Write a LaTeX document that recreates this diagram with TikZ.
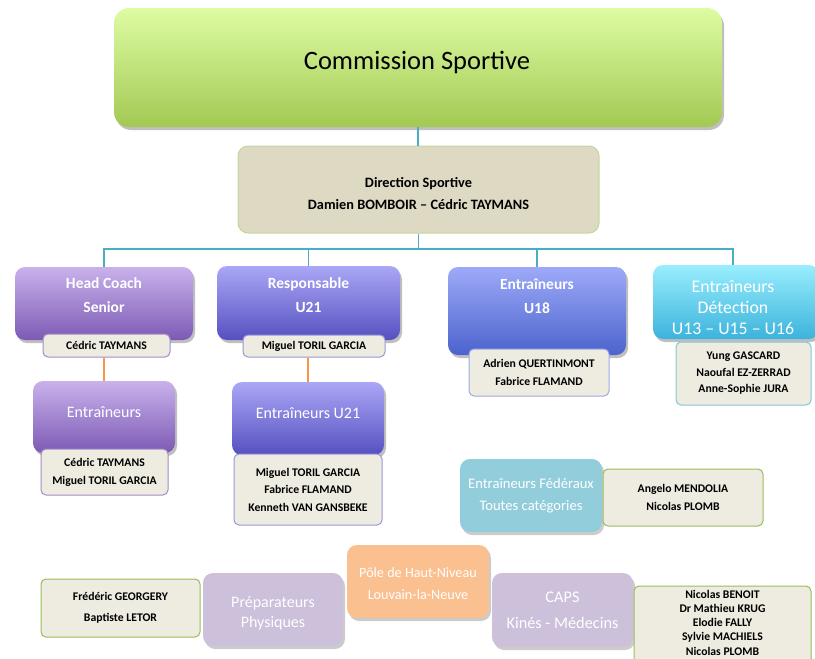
\documentclass[tikz,border=0pt]{standalone}
\usepackage{fontspec}
\setmainfont{Carlito}
\usepackage{xcolor}
\usetikzlibrary{shadows}
\definecolor{csTop}{RGB}{221, 252, 163}
\definecolor{csBot}{RGB}{163, 201, 83}
\definecolor{dirFill}{RGB}{221, 217, 195}
\definecolor{dirLine}{RGB}{195, 214, 155}
\definecolor{busBlue}{RGB}{75, 172, 198}
\definecolor{linkOrange}{RGB}{247, 150, 70}
\definecolor{hcTop}{RGB}{201, 177, 236}
\definecolor{hcBot}{RGB}{124, 90, 180}
\definecolor{uaTop}{RGB}{170, 167, 246}
\definecolor{uaBot}{RGB}{86, 80, 192}
\definecolor{ubTop}{RGB}{158, 170, 248}
\definecolor{ubBot}{RGB}{75, 99, 205}
\definecolor{detTop}{RGB}{152, 238, 253}
\definecolor{detBot}{RGB}{60, 179, 220}
\definecolor{nameFill}{RGB}{238, 236, 225}
\definecolor{nameGreen}{RGB}{155, 187, 89}
\definecolor{fedFill}{RGB}{146, 205, 220}
\definecolor{lilac}{RGB}{204, 192, 218}
\definecolor{peach}{RGB}{250, 192, 144}

\begin{document}
\begin{tikzpicture}[x=1pt, y=-1pt,
    conn/.style={busBlue, line width=1.2pt},
    subconn/.style={linkOrange, line width=1.2pt},
    shade box/.style={rounded corners=10pt, inner sep=0pt,
      drop shadow={shadow xshift=2pt, shadow yshift=-3pt, opacity=0.25, fill=black}},
    flat box/.style={rounded corners=10pt, inner sep=0pt,
      drop shadow={shadow xshift=2pt, shadow yshift=-3pt, opacity=0.2, fill=black}},
    name box/.style={rounded corners=5pt, inner sep=0pt, fill=nameFill, draw, line width=1pt,
      align=center, font=\bfseries\fontsize{11.7}{18}\selectfont},
    head text/.style={text=white, align=center, font=\bfseries\fontsize{15.5}{24}\selectfont},
    light text/.style={text=white, align=center, font=\fontsize{16}{20}\selectfont}]
  \useasboundingbox (0,0) rectangle (815,659);
  \clip (0,0) rectangle (815,659);

  % Commission
  \node[shade box, rounded corners=15pt, top color=csTop, bottom color=csBot,
    minimum width=608, minimum height=119] (cs) at (418,67.5) {};
  \node[font=\fontsize{26.5}{30}\selectfont] (cstext) at (417,62) {Commission Sportive};

  % Direction
  \node[rounded corners=10pt, fill=dirFill, draw=dirLine, line width=1pt,
    minimum width=361, minimum height=87] (dir) at (418.5,189.5) {};
  \node[align=center, font=\bfseries\fontsize{14.3}{22}\selectfont] (dirtext) at (418.5,194)
    {Direction Sportive\\Damien BOMBOIR -- Cédric TAYMANS};

  % Head coach senior
  \node[shade box, top color=hcTop, bottom color=hcBot,
    minimum width=178, minimum height=73] (hc) at (104,303.5) {};
  \node[head text] (hctext) at (104,295) {Head Coach\\Senior};
  \node[name box, draw=hcBot!70, minimum width=127, minimum height=23] (hcname) at (106.5,345.5)
    {Cédric TAYMANS};

  \node[shade box, top color=hcTop, bottom color=hcBot,
    minimum width=142, minimum height=72] (hcent) at (104,417) {};
  \node[light text] (hcenttext) at (104,412) {Entraîneurs};
  \node[name box, draw=hcBot!70, minimum width=127, minimum height=46] (hcentname) at (104.5,472)
    {Cédric TAYMANS\\Miguel TORIL GARCIA};

  % U21
  \node[shade box, top color=uaTop, bottom color=uaBot,
    minimum width=183, minimum height=74] (ua) at (308.5,303) {};
  \node[head text] (uatext) at (308.5,295) {Responsable\\U21};
  \node[name box, draw=uaBot!60, minimum width=142, minimum height=22] (uaname) at (314,346)
    {Miguel TORIL GARCIA};

  \node[shade box, top color=uaTop, bottom color=uaBot,
    minimum width=152, minimum height=73] (uaent) at (308,418.5) {};
  \node[light text] (uaenttext) at (308,413) {Entraîneurs U21};
  \node[name box, draw=uaBot!60, font=\bfseries\fontsize{11.7}{17.5}\selectfont,
    minimum width=148, minimum height=71] (uaentname) at (308,489.5)
    {Miguel TORIL GARCIA\\Fabrice FLAMAND\\Kenneth VAN GANSBEKE};

  % U18
  \node[shade box, top color=ubTop, bottom color=ubBot,
    minimum width=178, minimum height=88] (ub) at (537,311) {};
  \node[head text] (ubtext) at (537,296) {Entraîneurs\\U18};
  \node[name box, draw=ubBot!55, minimum width=140, minimum height=47] (ubname) at (539,372.5)
    {Adrien QUERTINMONT\\Fabrice FLAMAND};

  % Detection
  \node[shade box, top color=detTop, bottom color=detBot,
    minimum width=166, minimum height=74] (det) at (736,302) {};
  \node[light text, font=\fontsize{17.8}{21}\selectfont] (dettext) at (733,308)
    {Entraîneurs\\Détection\\U13 -- U15 -- U16};
  \node[name box, draw=busBlue!70, font=\bfseries\fontsize{11.7}{16.5}\selectfont,
    minimum width=135, minimum height=63] (detname) at (743.5,373.5)
    {Yung GASCARD\\Naoufal EZ-ZERRAD\\Anne-Sophie JURA};

  % Federal coaches
  \node[flat box, fill=fedFill, minimum width=142, minimum height=73] (fed) at (531,495.5) {};
  \node[light text, font=\fontsize{14.6}{22}\selectfont] (fedtext) at (531,496)
    {Entraîneurs Fédéraux\\Toutes catégories};
  \node[name box, draw=nameGreen, minimum width=160, minimum height=57] (fedname) at (683,497.5)
    {Angelo MENDOLIA\\Nicolas PLOMB};

  % Bottom row
  \node[name box, draw=nameGreen, font=\bfseries\fontsize{11.7}{21}\selectfont,
    minimum width=159, minimum height=58] (prepname) at (120.5,608)
    {Frédéric GEORGERY\\Baptiste LETOR};
  \node[flat box, fill=lilac, minimum width=140, minimum height=73] (prep) at (273,609.5) {};
  \node[light text] (preptext) at (273,613) {Préparateurs\\Physiques};

  \node[flat box, fill=peach, minimum width=142, minimum height=73] (pole) at (418,581.5) {};
  \node[light text, font=\fontsize{14.2}{22}\selectfont] (poletext) at (418,584)
    {Pôle de Haut-Niveau\\Louvain-la-Neuve};

  \node[flat box, fill=lilac, minimum width=141, minimum height=74] (caps) at (562.5,610) {};
  \node[light text, font=\fontsize{16.3}{26}\selectfont] (capstext) at (562.5,610)
    {CAPS\\Kinés - Médecins};
  \node[name box, draw=nameGreen, minimum width=177, minimum height=80] (capsname) at (722.5,626) {};
  \node[align=center, font=\bfseries\fontsize{11.7}{14.25}\selectfont] (capslist) at (722.5,622.5)
    {Nicolas BENOIT\\Dr Mathieu KRUG\\Elodie FALLY\\Sylvie MACHIELS\\Nicolas PLOMB};

  % Connectors
  \coordinate (bus) at (418,249);
  \draw[conn] (cs.south) -- (cs.south |- dir.north);
  \draw[conn] (dir.south) -- (dir.south |- bus);
  \draw[conn] (hc.north) -- (hc.north |- bus) -- (dettext.north |- bus) -- (dettext.north |- det.north);
  \draw[conn] (ua.north) -- (ua.north |- bus);
  \draw[conn] (ub.north) -- (ub.north |- bus);
  \draw[subconn] (hcent.north |- hcname.south) -- (hcent.north);
  \draw[subconn] (uaent.north |- uaname.south) -- (uaent.north);
\end{tikzpicture}
\end{document}
